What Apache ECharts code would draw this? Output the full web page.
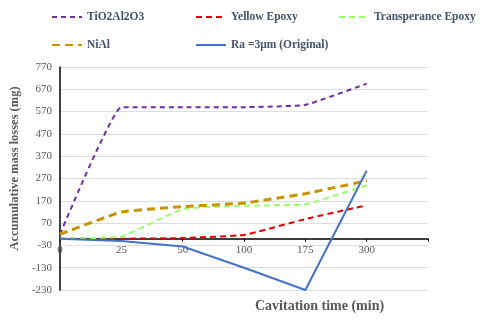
<!DOCTYPE html>
<html>
<head>
<meta charset="utf-8">
<script src="https://cdn.jsdelivr.net/npm/echarts@6/dist/echarts.min.js"></script>
<style>
html, body { margin: 0; padding: 0; background: #fff; }
#chart { width: 480px; height: 321px; }
</style>
</head>
<body>
<div id="chart"></div>
<script>
// x categories (last slot is an empty one, the axis runs past 300)
const times = ['0', '25', '50', '100', '175', '300', '']
const tio2Al2o3 = [20, 590, 590, 590, 600, 695]
const yellowEpoxy = [0, 0, 3, 17, 88, 150]
const transEpoxy = [0, 10, 133, 148, 154, 240]
const niAl = [20, 120, 144, 160, 202, 260]
const original = [0, -10, -35, -130, -230, 305]

const serif = "'Liberation Serif', 'DejaVu Serif', serif"
const legendText = { fontFamily: serif, fontWeight: 'bold', fontSize: 11.5, color: '#44546a' }

function legendAt (name, left, top) {
  return {
    data: [name],
    left: left,
    top: top,
    padding: 0,
    itemWidth: 30,
    itemHeight: 12,
    itemStyle: { opacity: 0 },
    textStyle: legendText
  }
}

const chart = echarts.init(document.getElementById('chart'))
chart.setOption({
  animation: false,
  legend: [
    legendAt('TiO2Al2O3', 51, 11),
    legendAt('Yellow Epoxy', 195, 11),
    legendAt('Transperance Epoxy', 338, 11),
    legendAt('NiAl', 51, 39),
    legendAt('Ra =3μm (Original)', 195, 39)
  ],
  grid: { left: 59, right: 52, top: 67, bottom: 31 },
  xAxis: {
    type: 'category',
    data: times,
    boundaryGap: false,
    offset: -51.3,
    axisLine: { onZero: false, lineStyle: { color: '#000', width: 1.5 } },
    axisTick: { show: true, length: 3, lineStyle: { color: '#000' } },
    axisLabel: { fontFamily: serif, fontSize: 11, color: '#595959', margin: 6 },
    splitLine: { show: false }
  },
  yAxis: {
    type: 'value',
    min: -230,
    max: 770,
    interval: 100,
    name: 'Accumulative mass losses (mg)',
    nameLocation: 'middle',
    nameGap: 29,
    nameTextStyle: { fontFamily: serif, fontWeight: 'bold', fontSize: 12.5, color: '#595959', padding: [0, 0, 0, 20] },
    axisLine: { show: true, lineStyle: { color: '#000', width: 1.5 } },
    axisTick: { show: false },
    axisLabel: { fontFamily: serif, fontSize: 11, color: '#595959', margin: 8 },
    splitLine: { lineStyle: { color: '#d9dde6', width: 1 } }
  },
  graphic: [{
    type: 'text',
    left: 255,
    top: 299,
    style: { text: 'Cavitation time (min)', font: 'bold 14px ' + serif, fill: '#595959' }
  }],
  series: [
    {
      name: 'TiO2Al2O3',
      type: 'line',
      data: tio2Al2o3,
      symbol: 'none',
      smooth: 0.1,
      itemStyle: { color: '#7030a0' },
      lineStyle: { color: '#7030a0', width: 2, type: [5, 4] }
    },
    {
      name: 'Yellow Epoxy',
      type: 'line',
      data: yellowEpoxy,
      symbol: 'none',
      smooth: 0.1,
      itemStyle: { color: '#e00000' },
      lineStyle: { color: '#e00000', width: 2, type: [6, 4] }
    },
    {
      name: 'Transperance Epoxy',
      type: 'line',
      data: transEpoxy,
      symbol: 'none',
      smooth: 0.1,
      itemStyle: { color: '#99ff66' },
      lineStyle: { color: '#99ff66', width: 2, type: [6, 4] }
    },
    {
      name: 'NiAl',
      type: 'line',
      data: niAl,
      symbol: 'none',
      smooth: 0.1,
      itemStyle: { color: '#c89400' },
      lineStyle: { color: '#c89400', width: 3, type: [8, 5] }
    },
    {
      name: 'Ra =3μm (Original)',
      type: 'line',
      data: original,
      symbol: 'none',
      itemStyle: { color: '#4472c4' },
      lineStyle: { color: '#4472c4', width: 2 }
    }
  ]
})
</script>
</body>
</html>
